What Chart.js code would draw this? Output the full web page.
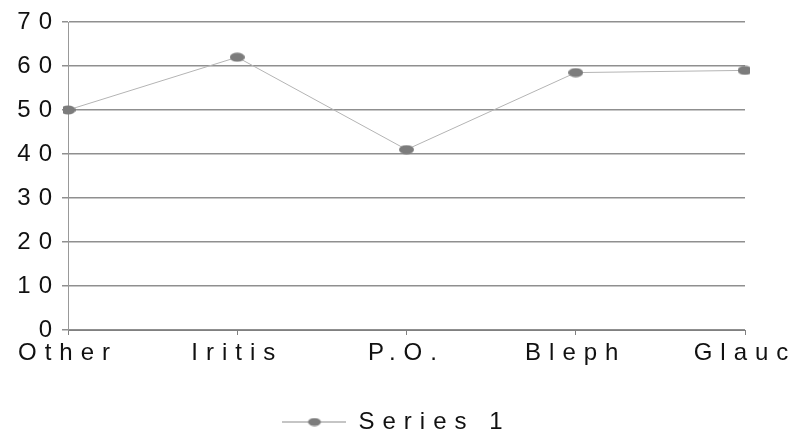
<!DOCTYPE html>
<html>
<head>
<meta charset="utf-8">
<script src="https://cdn.jsdelivr.net/npm/chart.js@4/dist/chart.umd.min.js"></script>
<style>
  html, body { margin: 0; padding: 0; background: #fff; }
  #wrap { width: 793px; height: 437px; }
</style>
</head>
<body>
<div id="wrap"><canvas id="chart"></canvas></div>
<script>
const categories = ["Other", "Iritis", "P.O.", "Bleph", "Glauc"];
const series1 = [50, 62, 41, 58.5, 59];
const yTicks = [0, 10, 20, 30, 40, 50, 60, 70];

const SPACING = '8px';
const FONT = { family: '"Liberation Sans", Arial, sans-serif', size: 24 };

// grey oval marker, like the scanned original
function oval(w, h, lineLen) {
  const c = document.createElement('canvas');
  c.width = lineLen || w;
  c.height = h;
  const g = c.getContext('2d');
  if (lineLen) {
    g.strokeStyle = '#8a8a8a';
    g.lineWidth = 1;
    g.beginPath();
    g.moveTo(0, h / 2);
    g.lineTo(lineLen, h / 2);
    g.stroke();
  }
  g.fillStyle = '#7c7c7c';
  g.beginPath();
  g.ellipse(c.width / 2, h / 2, w / 2, h / 2 - 0.5, 0, 0, Math.PI * 2);
  g.fill();
  return c;
}
const pointImg = oval(15, 10);
const legendImg = oval(13, 9, 64);

const spaced = {
  id: 'spaced',
  beforeLayout(chart) { chart.ctx.letterSpacing = SPACING; },
  beforeDraw(chart) { chart.ctx.letterSpacing = SPACING; }
};

new Chart(document.getElementById('chart'), {
  type: 'line',
  data: {
    labels: categories,
    datasets: [{
      label: 'Series 1',
      data: series1,
      borderColor: '#b4b4b4',
      borderWidth: 1,
      pointStyle: pointImg,
      tension: 0
    }]
  },
  options: {
    responsive: true,
    maintainAspectRatio: false,
    animation: false,
    events: [],
    layout: { padding: { top: 22, left: 0, right: 0, bottom: -7 } },
    plugins: {
      tooltip: { enabled: false },
      legend: {
        position: 'bottom',
        labels: {
          usePointStyle: true,
          pointStyle: legendImg,
          pointStyleWidth: 64,
          padding: 4,
          color: '#111',
          font: FONT
        }
      }
    },
    scales: {
      x: {
        offset: false,
        grid: { display: true, drawOnChartArea: false, drawTicks: true, tickLength: 5, color: '#808080' },
        border: { color: '#808080', width: 1 },
        ticks: { color: '#111', font: FONT, padding: 4, maxRotation: 0, autoSkip: false },
        afterFit(s) { s.height = 76; s.paddingRight = 48; }
      },
      y: {
        min: 0,
        max: 70,
        afterBuildTicks(s) { s.ticks = yTicks.map(v => ({ value: v })); },
        grid: { color: '#8f8f8f', lineWidth: 1.5, tickLength: 6 },
        border: { color: '#999', width: 1 },
        ticks: { color: '#111', font: FONT, padding: 2 },
        afterFit(s) { s.width = 68; }
      }
    }
  },
  plugins: [spaced]
});
</script>
</body>
</html>
